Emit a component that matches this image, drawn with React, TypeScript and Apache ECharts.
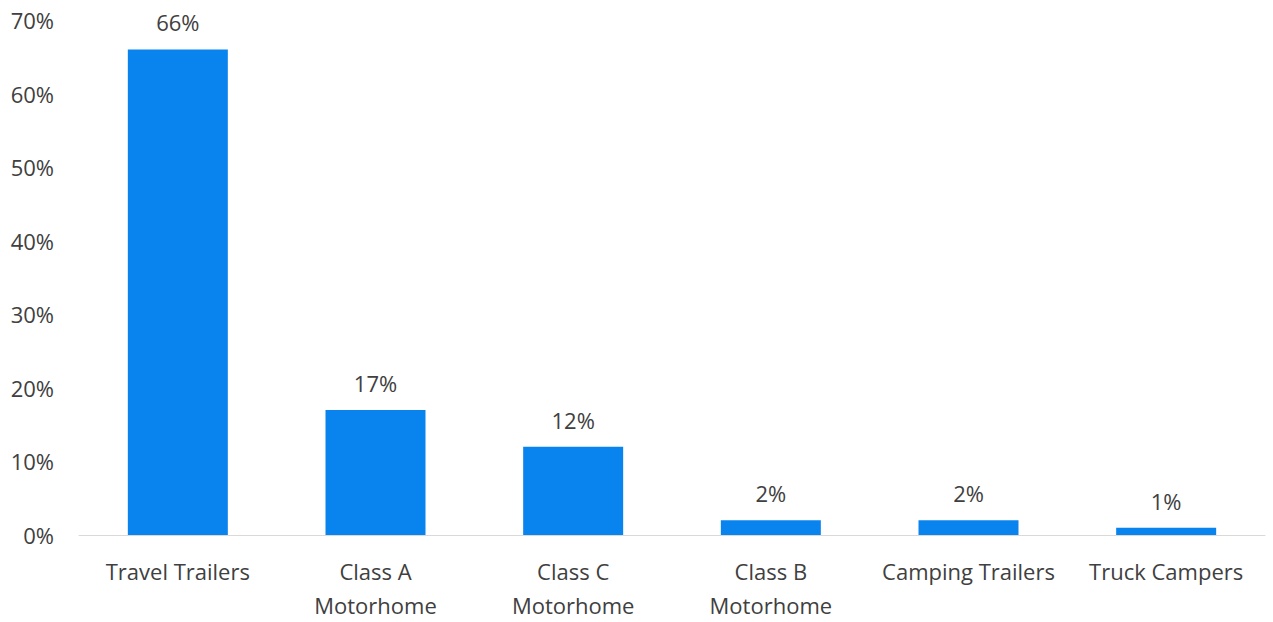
import React, { useEffect, useRef } from "react";
import * as echarts from "echarts";

const categories = [
  "Travel Trailers",
  "Class A\nMotorhome",
  "Class C\nMotorhome",
  "Class B\nMotorhome",
  "Camping Trailers",
  "Truck Campers",
];
const values = [66, 17, 12, 2, 2, 1];
const yTicks = { min: 0, max: 70, interval: 10 };

export default function App() {
  const ref = useRef<HTMLDivElement>(null);
  useEffect(() => {
    if (!ref.current) return;
    const chart = echarts.init(ref.current, undefined, { renderer: "svg" });
    const font = "'Open Sans', 'Liberation Sans', sans-serif";
    chart.setOption({
      animation: false,
      backgroundColor: "#ffffff",
      grid: { left: 79, right: 8, top: 20, bottom: 85, containLabel: false },
      xAxis: {
        type: "category",
        data: categories,
        axisLine: { lineStyle: { color: "#d9d9d9", width: 1 } },
        axisTick: { show: false },
        axisLabel: {
          color: "#404040",
          fontFamily: font,
          fontSize: 22,
          lineHeight: 34,
          margin: 19,
          interval: 0,
        },
      },
      yAxis: {
        type: "value",
        min: yTicks.min,
        max: yTicks.max,
        interval: yTicks.interval,
        splitLine: { show: false },
        axisLine: { show: false },
        axisTick: { show: false },
        axisLabel: {
          color: "#404040",
          fontFamily: font,
          fontSize: 22,
          margin: 25,
          formatter: (v: number) => `${v}%`,
        },
      },
      series: [
        {
          type: "bar",
          data: values,
          barWidth: 100,
          itemStyle: { color: "#0984EF" },
          label: {
            show: true,
            position: "top",
            distance: 16,
            color: "#404040",
            fontFamily: font,
            fontSize: 22,
            formatter: (p: any) => `${p.value}%`,
          },
        },
      ],
    });
    return () => chart.dispose();
  }, []);
  return <div ref={ref} style={{ width: 1273, height: 622, position: "absolute", left: 0, top: 0 }} />;
}
